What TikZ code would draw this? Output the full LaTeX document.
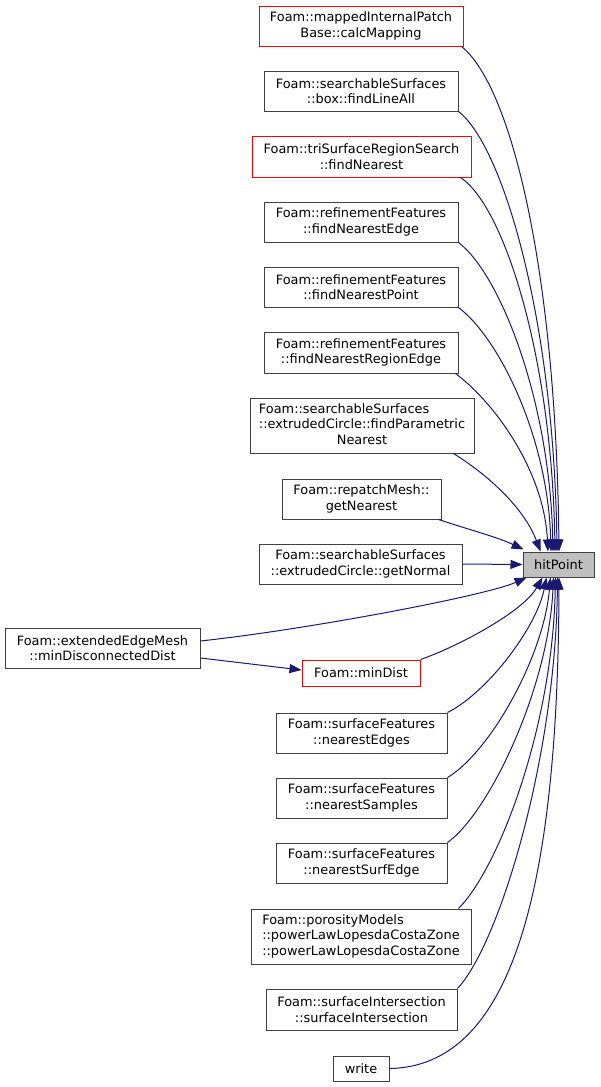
\documentclass[tikz,border=0pt]{standalone}
\usepackage{fontspec}
\setmainfont{DejaVu Sans}
\usetikzlibrary{arrows.meta}
\definecolor{edgeblue}{HTML}{191970}
\definecolor{boxgrey}{HTML}{404040}
\definecolor{rootfill}{HTML}{BFBFBF}
\definecolor{truncred}{HTML}{FF0000}
\begin{document}
\begin{tikzpicture}[x=1pt,y=-1pt,
  box/.style={draw=boxgrey, line width=1pt, fill=white, inner sep=0pt, align=center,
              font=\fontsize{12.9}{15.5}\selectfont},
  redbox/.style={box, draw=truncred},
  rootbox/.style={box, fill=rootfill},
  edge/.style={draw=edgeblue, line width=1pt, -{Triangle[length=12pt,width=9pt]}}]
\useasboundingbox (0,0) rectangle (600,1087);

% callers (upper part)
\node[redbox, minimum width=204pt, minimum height=40pt] (calc) at (361,26) {Foam::mappedInternalPatch\\Base::calcMapping};
\node[box, minimum width=194pt, minimum height=40pt] (fla) at (361,91) {Foam::searchableSurfaces\\::box::findLineAll};
\node[redbox, minimum width=219pt, minimum height=41pt] (fn) at (361.5,156.5) {Foam::triSurfaceRegionSearch\\::findNearest};
\node[box, minimum width=194pt, minimum height=40pt] (fne) at (361,222) {Foam::refinementFeatures\\::findNearestEdge};
\node[box, minimum width=194pt, minimum height=40pt] (fnp) at (361,287) {Foam::refinementFeatures\\::findNearestPoint};
\node[box, minimum width=194pt, minimum height=41pt] (fnre) at (361,352.5) {Foam::refinementFeatures\\::findNearestRegionEdge};
\node[box, minimum width=224pt, minimum height=55pt] (fpn) at (362,425.5)
  {\begin{tabular}{@{}l@{}}Foam::searchableSurfaces\\::extrudedCircle::findParametric\\\multicolumn{1}{@{}c@{}}{Nearest}\end{tabular}};
\node[box, minimum width=159pt, minimum height=40pt] (gn) at (361.5,499) {Foam::repatchMesh::\\getNearest};
\node[box, minimum width=203pt, minimum height=40pt] (gnorm) at (360.5,564) {Foam::searchableSurfaces\\::extrudedCircle::getNormal};

% root
\node[rootbox, minimum width=71pt, minimum height=25pt] (hit) at (558.5,564.5) {hitPoint};

% callers (lower part)
\node[box, minimum width=195pt, minimum height=40pt] (eem) at (102.5,648) {Foam::extendedEdgeMesh\\::minDisconnectedDist};
\node[redbox, minimum width=118pt, minimum height=26pt] (md) at (361,673) {Foam::minDist};
\node[box, minimum width=171pt, minimum height=40pt] (ne) at (361.5,733) {Foam::surfaceFeatures\\::nearestEdges};
\node[box, minimum width=171pt, minimum height=40pt] (ns) at (361.5,798) {Foam::surfaceFeatures\\::nearestSamples};
\node[box, minimum width=171pt, minimum height=40pt] (nse) at (361.5,863) {Foam::surfaceFeatures\\::nearestSurfEdge};
\node[box, minimum width=220pt, minimum height=55pt] (por) at (361,936.5)
  {\begin{tabular}{@{}l@{}}Foam::porosityModels\\::powerLawLopesdaCostaZone\\::powerLawLopesdaCostaZone\end{tabular}};
\node[box, minimum width=191pt, minimum height=41pt] (si) at (361.5,1009.5) {Foam::surfaceIntersection\\::surfaceIntersection};
\node[box, minimum width=56pt, minimum height=25pt] (wr) at (361,1068.5) {write};

% edges from upper callers
\draw[edge] ([xshift=-2pt]calc.south east) .. controls +(50,40) and +(-3,-280) .. ([xshift=0.5pt]hit.north);
\draw[edge] (fla.south east) .. controls +(45,35) and +(-3,-230) .. ([xshift=-1.5pt]hit.north);
\draw[edge] ([xshift=-11pt]fn.south east) .. controls +(45,30) and +(-3,-190) .. ([xshift=-3.5pt]hit.north);
\draw[edge] (fne.south east) .. controls +(42,32) and +(-3,-150) .. ([xshift=-5.5pt]hit.north);
\draw[edge] (fnp.south east) .. controls +(40,30) and +(-3,-115) .. ([xshift=-7.5pt]hit.north);
\draw[edge] ([xshift=-3pt]fnre.south east) .. controls +(40,30) and +(-4,-80) .. ([xshift=-10.5pt]hit.north);
\draw[edge] ([xshift=-21pt]fpn.south east) .. controls +(40,25) and +(-15,-40) .. ([xshift=-18pt]hit.north);
\draw[edge] ([xshift=-3pt]gn.south east) .. controls +(30,10) and +(-25,-12) .. ([xshift=1pt,yshift=2pt]hit.north west);
\draw[edge] (gnorm.east) -- (hit.west);

% edges from lower callers
\draw[edge] ([yshift=7pt]eem.east) .. controls +(110,-12) and +(-40,18) .. ([xshift=4pt]hit.south west);
\draw[edge] ([yshift=-10pt]eem.east) -- ([yshift=3pt]md.west);
\draw[edge] (md.north east) .. controls +(35,-12) and +(-20,35) .. ([xshift=-16pt]hit.south);
\draw[edge] (ne.north east) .. controls +(40,-20) and +(-10,50) .. ([xshift=-12pt]hit.south);
\draw[edge] (ns.north east) .. controls +(42,-25) and +(-7,80) .. ([xshift=-8pt]hit.south);
\draw[edge] (nse.north east) .. controls +(42,-30) and +(-5,110) .. ([xshift=-5pt]hit.south);
\draw[edge] ([xshift=-13pt]por.north east) .. controls +(40,-40) and +(-3,150) .. ([xshift=-3pt]hit.south);
\draw[edge] (si.north east) .. controls +(42,-45) and +(-2,180) .. ([xshift=-1pt]hit.south);
\draw[edge] (wr.east) .. controls +(120,-2) and +(-1,320) .. ([xshift=0.5pt]hit.south);
\end{tikzpicture}
\end{document}
